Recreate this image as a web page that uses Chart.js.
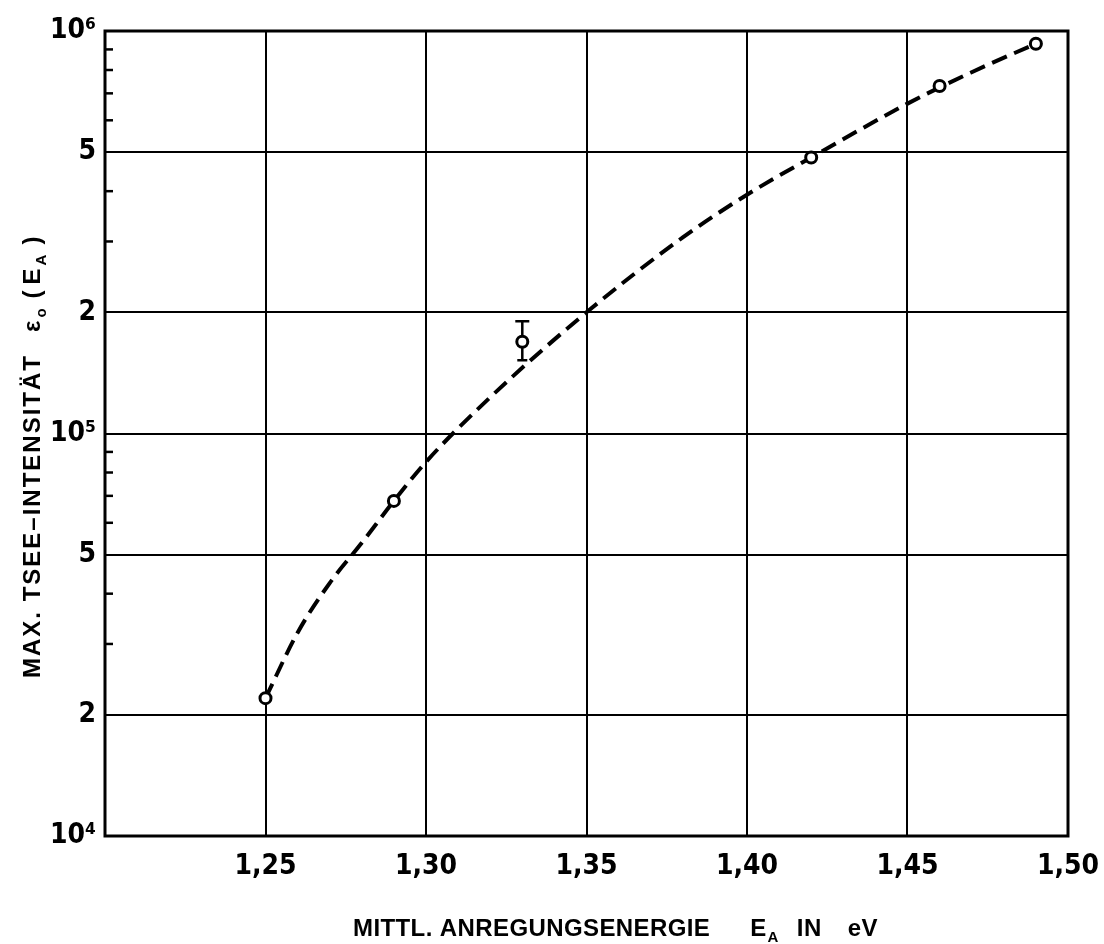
<!DOCTYPE html>
<html>
<head>
<meta charset="utf-8">
<script src="https://cdn.jsdelivr.net/npm/chart.js@4.4.0/dist/chart.umd.min.js"></script>
<style>
  html, body { margin: 0; padding: 0; background: #fff; }
  #wrap { width: 1104px; height: 944px; }
</style>
</head>
<body>
<div id="wrap"><canvas id="chart" width="1104" height="944"></canvas></div>
<script>
// Messpunkte
const energy = [1.25, 1.29, 1.33, 1.42, 1.46, 1.49];
const intensity = [2.2e4, 6.8e4, 1.69e5, 4.85e5, 7.3e5, 9.3e5];
const errorLow = [null, null, 1.52e5, null, null, null];
const errorHigh = [null, null, 1.9e5, null, null, null];

// gestrichelte Ausgleichskurve
const curveEnergy = [1.25, 1.26, 1.27, 1.28, 1.29, 1.30, 1.32, 1.35, 1.38, 1.40, 1.42, 1.45, 1.47, 1.49];
const curveIntensity = [2.2e4, 3.2e4, 4.25e4, 5.35e4, 6.8e4, 8.5e4, 1.23e5, 2.0e5, 3.07e5, 3.92e5, 4.85e5, 6.6e5, 7.9e5, 9.3e5];

// Achsen
const xTicks = [1.25, 1.30, 1.35, 1.40, 1.45, 1.50];
const yTicks = [1e4, 2e4, 5e4, 1e5, 2e5, 5e5, 1e6];
const yTickLabels = ["10⁴", "2", "5", "10⁵", "2", "5", "10⁶"];
const yMinorTicks = [3e4, 4e4, 6e4, 7e4, 8e4, 9e4, 3e5, 4e5, 6e5, 7e5, 8e5, 9e5];

const TICK_FONT = "'Liberation Sans Narrow', 'DejaVu Sans Condensed', 'Liberation Sans', sans-serif";
const TITLE_FONT = "'Liberation Sans', 'DejaVu Sans', sans-serif";

// Rahmen um die Zeichenfläche
const framePlugin = {
  id: "frame",
  afterDraw(chart) {
    const { ctx, chartArea: a } = chart;
    ctx.save();
    ctx.strokeStyle = "#000";
    ctx.lineWidth = 3;
    ctx.strokeRect(a.left, a.top, a.right - a.left, a.bottom - a.top);
    ctx.restore();
  },
};

// kleine Teilstriche innen an der y-Achse
const minorTickPlugin = {
  id: "minorTicks",
  afterDraw(chart) {
    const { ctx, chartArea: a } = chart;
    const y = chart.scales.y;
    ctx.save();
    ctx.strokeStyle = "#000";
    ctx.lineWidth = 2.5;
    yMinorTicks.forEach((v) => {
      const py = y.getPixelForValue(v);
      ctx.beginPath();
      ctx.moveTo(a.left, py);
      ctx.lineTo(a.left + 8, py);
      ctx.stroke();
    });
    ctx.restore();
  },
};

// Fehlerbalken
const errorBarPlugin = {
  id: "errorBars",
  beforeDatasetsDraw(chart) {
    const { ctx } = chart;
    const x = chart.scales.x;
    const y = chart.scales.y;
    ctx.save();
    ctx.strokeStyle = "#000";
    ctx.lineWidth = 2.5;
    energy.forEach((e, i) => {
      if (errorLow[i] == null) return;
      const px = x.getPixelForValue(e);
      const lo = y.getPixelForValue(errorLow[i]);
      const hi = y.getPixelForValue(errorHigh[i]);
      ctx.beginPath();
      ctx.moveTo(px, lo);
      ctx.lineTo(px, hi);
      ctx.moveTo(px - 7, hi);
      ctx.lineTo(px + 7, hi);
      ctx.moveTo(px - 5, lo);
      ctx.lineTo(px + 5, lo);
      ctx.stroke();
    });
    ctx.restore();
  },
};

// Text mit Indizes zeichnen
function drawPieces(ctx, pieces, size, spacing) {
  let pos = 0;
  ctx.letterSpacing = spacing + "px";
  pieces.forEach((p) => {
    pos += p.gap || 0;
    if (p.sub) {
      ctx.font = "bold " + Math.round(size * 0.62) + "px " + TITLE_FONT;
      ctx.fillText(p.text, pos, 6);
    } else {
      ctx.font = "bold " + size + "px " + TITLE_FONT;
      ctx.fillText(p.text, pos, 0);
    }
    pos += ctx.measureText(p.text).width;
  });
}

const axisTitlePlugin = {
  id: "axisTitles",
  afterDraw(chart) {
    const { ctx } = chart;
    ctx.save();
    ctx.fillStyle = "#000";
    ctx.textBaseline = "alphabetic";
    ctx.textAlign = "left";
    ctx.translate(353, 936);
    drawPieces(ctx, [
      { text: "MITTL. ANREGUNGSENERGIE" },
      { text: "E", gap: 40 },
      { text: "A", sub: true, gap: 1 },
      { text: "IN", gap: 18 },
      { text: "eV", gap: 26 },
    ], 24, 0.4);
    ctx.restore();

    ctx.save();
    ctx.fillStyle = "#000";
    ctx.textBaseline = "alphabetic";
    ctx.textAlign = "left";
    ctx.translate(40, 678);
    ctx.rotate(-Math.PI / 2);
    drawPieces(ctx, [
      { text: "MAX. TSEE–INTENSITÄT" },
      { text: "ε", gap: 22 },
      { text: "o", sub: true, gap: 1 },
      { text: "(", gap: 8 },
      { text: "E", gap: 4 },
      { text: "A", sub: true, gap: 1 },
      { text: ")", gap: 8 },
    ], 24, 2);
    ctx.restore();
  },
};

const ctx = document.getElementById("chart").getContext("2d");
const chart = new Chart(ctx, {
  type: "scatter",
  data: {
    datasets: [
      {
        label: "Messwerte",
        data: energy.map((e, i) => ({ x: e, y: intensity[i] })),
        showLine: false,
        pointStyle: "circle",
        pointRadius: 5.5,
        pointBorderWidth: 3,
        pointBorderColor: "#000",
        pointBackgroundColor: "#fff",
        order: 0,
      },
      {
        label: "Kurve",
        data: curveEnergy.map((e, i) => ({ x: e, y: curveIntensity[i] })),
        showLine: true,
        borderColor: "#000",
        borderWidth: 4,
        borderDash: [16, 8],
        pointRadius: 0,
        cubicInterpolationMode: "monotone",
        fill: false,
        order: 1,
      },
    ],
  },
  options: {
    responsive: false,
    animation: false,
    devicePixelRatio: 1,
    layout: { padding: { left: 0, top: 31, right: 36, bottom: 0 } },
    plugins: {
      legend: { display: false },
      tooltip: { enabled: false },
    },
    scales: {
      x: {
        type: "linear",
        min: 1.2,
        max: 1.5,
        afterBuildTicks: (scale) => {
          scale.ticks = xTicks.map((v) => ({ value: v }));
        },
        afterFit: (scale) => {
          scale.height = 108;
          scale.paddingLeft = 0;
          scale.paddingRight = 0;
        },
        border: { display: false },
        grid: {
          drawTicks: false,
          lineWidth: 2,
          color: (c) => (c.tick && c.tick.value < 1.49 ? "#000" : "rgba(0,0,0,0)"),
        },
        ticks: {
          padding: 14,
          color: "#000",
          maxRotation: 0,
          font: { family: TICK_FONT, size: 28, weight: "bold" },
          callback: (v) => Number(v).toFixed(2).replace(".", ","),
        },
      },
      y: {
        type: "logarithmic",
        min: 1e4,
        max: 1e6,
        afterBuildTicks: (scale) => {
          scale.ticks = yTicks.map((v) => ({ value: v }));
        },
        afterFit: (scale) => {
          scale.width = 105;
          scale.paddingTop = 0;
          scale.paddingBottom = 0;
        },
        border: { display: false },
        grid: {
          drawTicks: false,
          lineWidth: 2,
          color: (c) =>
            c.tick && c.tick.value > 1e4 && c.tick.value < 1e6 ? "#000" : "rgba(0,0,0,0)",
        },
        ticks: {
          padding: 9,
          color: "#000",
          font: { family: TICK_FONT, size: 28, weight: "bold" },
          callback: (v) => {
            const i = yTicks.indexOf(v);
            return i >= 0 ? yTickLabels[i] : "";
          },
        },
      },
    },
  },
  plugins: [errorBarPlugin, framePlugin, minorTickPlugin, axisTitlePlugin],
});
</script>
</body>
</html>
